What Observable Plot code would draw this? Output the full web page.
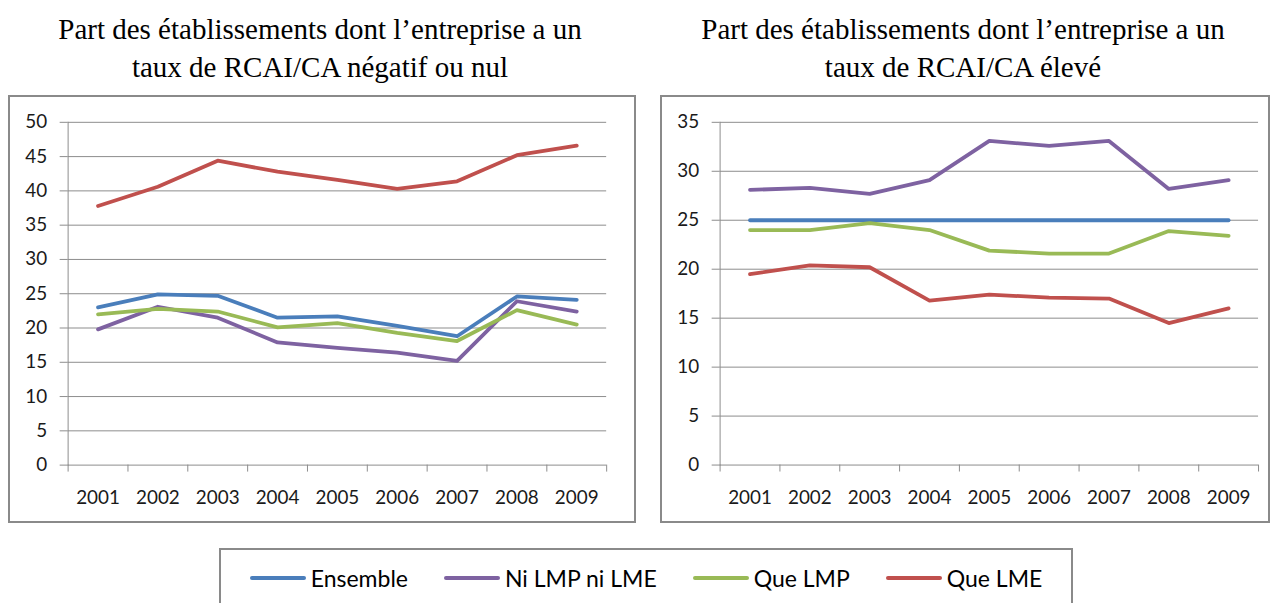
<!DOCTYPE html>
<html>
<head>
<meta charset="utf-8">
<script src="https://cdn.jsdelivr.net/npm/d3@7"></script>
<script src="https://cdn.jsdelivr.net/npm/@observablehq/plot@0.6"></script>
<style>
  html, body { margin: 0; padding: 0; background: #fff; }
  #page { position: relative; width: 1274px; height: 603px; overflow: hidden; background: #fff; }
  .title { position: absolute; width: 640px; text-align: center; font-family: "Liberation Serif", "Times New Roman", serif; font-size: 29px; line-height: 38px; color: #000; }
  .panel { position: absolute; border: 2px solid #8a8a8a; box-sizing: border-box; background: #fff; }
  .panel svg { position: absolute; left: -2px; top: -2px; }
  #legend { position: absolute; left: 219px; top: 548px; width: 854px; height: 70px; border: 2px solid #8a8a8a; box-sizing: border-box; display: flex; justify-content: center; align-items: flex-start; padding-top: 14px; gap: 36px; font-family: Lato, "Open Sans", sans-serif; font-size: 23px; color: #000; }
  .item { display: flex; align-items: center; gap: 5px; }
  .sw { width: 56px; height: 4px; border-radius: 2px; }
</style>
</head>
<body>
<div id="page"></div>
<script>
// ---- data ----
const years = [2001, 2002, 2003, 2004, 2005, 2006, 2007, 2008, 2009];
const seriesNames = ["Ensemble", "Ni LMP ni LME", "Que LMP", "Que LME"];
const seriesColors = ["#4a7ebb", "#7e62a1", "#99ba56", "#c0504d"];

// Left: négatif ou nul
const leftEnsemble = [23.0, 24.9, 24.7, 21.5, 21.7, 20.3, 18.8, 24.6, 24.1];
const leftNiLMPniLME = [19.8, 23.1, 21.5, 17.9, 17.1, 16.4, 15.2, 23.9, 22.4];
const leftQueLMP = [22.0, 22.8, 22.4, 20.1, 20.7, 19.3, 18.1, 22.6, 20.5];
const leftQueLME = [37.8, 40.6, 44.4, 42.8, 41.6, 40.3, 41.4, 45.2, 46.6];

// Right: élevé
const rightEnsemble = [25, 25, 25, 25, 25, 25, 25, 25, 25];
const rightNiLMPniLME = [28.1, 28.3, 27.7, 29.1, 33.1, 32.6, 33.1, 28.2, 29.1];
const rightQueLMP = [24.0, 24.0, 24.7, 24.0, 21.9, 21.6, 21.6, 23.9, 23.4];
const rightQueLME = [19.5, 20.4, 20.2, 16.8, 17.4, 17.1, 17.0, 14.5, 16.0];

const leftTicks = [0, 5, 10, 15, 20, 25, 30, 35, 40, 45, 50];
const rightTicks = [0, 5, 10, 15, 20, 25, 30, 35];

const leftTitle = ["Part des établissements dont l’entreprise a un", "taux de RCAI/CA négatif ou nul"];
const rightTitle = ["Part des établissements dont l’entreprise a un", "taux de RCAI/CA élevé"];

// ---- build ----
const page = document.getElementById("page");
const gridColor = "#8c8c8c";

function tidy(valuesBySeries) {
  const rows = [];
  seriesNames.forEach((s, i) => years.forEach((yr, j) => rows.push({year: yr, value: valuesBySeries[i][j], series: s})));
  return rows;
}

function makePanel(valuesBySeries, yTicks, width, height) {
  const boundaries = [years[0] - 0.5, ...years.map(y => y + 0.5)];
  const data = tidy(valuesBySeries);
  return Plot.plot({
    width: width,
    height: height,
    marginLeft: 60,
    marginRight: width - 60 - 542,
    marginTop: 27,
    marginBottom: 56,
    style: {fontFamily: "Lato, 'Open Sans', sans-serif", fontSize: "19px", color: "#1a1a1a", background: "transparent", overflow: "visible"},
    x: {type: "linear", domain: [boundaries[0], boundaries[boundaries.length - 1]]},
    y: {domain: [yTicks[0], yTicks[yTicks.length - 1]]},
    color: {domain: seriesNames, range: seriesColors},
    marks: [
      Plot.gridY(yTicks, {stroke: gridColor, strokeOpacity: 1, strokeWidth: 1}),
      Plot.frame({anchor: "left", stroke: gridColor, strokeWidth: 1}),
      Plot.axisY(yTicks, {tickSize: 8, tickPadding: 13, stroke: gridColor, strokeOpacity: 1, label: null, tickFormat: d => String(d), fill: "#1a1a1a"}),
      Plot.axisX(boundaries, {tickSize: 7, tickPadding: 0, stroke: gridColor, strokeOpacity: 1, tickFormat: () => "", label: null}),
      Plot.axisX(years, {tickSize: 0, tickPadding: 26, tickFormat: d => String(d), label: null, fill: "#1a1a1a"}),
      Plot.line(data, {x: "year", y: "value", z: "series", stroke: "series", strokeWidth: 3.8, strokeLinecap: "round", strokeLinejoin: "round"})
    ]
  });
}

function addTitle(lines, centerX) {
  const d = document.createElement("div");
  d.className = "title";
  d.style.left = (centerX - 320) + "px";
  d.style.top = "10px";
  d.innerHTML = lines.map(l => `<div>${l}</div>`).join("");
  page.appendChild(d);
}

function addPanel(svg, left, top, w, h) {
  const box = document.createElement("div");
  box.className = "panel";
  box.style.left = left + "px";
  box.style.top = top + "px";
  box.style.width = w + "px";
  box.style.height = h + "px";
  box.appendChild(svg);
  page.appendChild(box);
}

addTitle(leftTitle, 320);
addTitle(rightTitle, 963);

addPanel(makePanel([leftEnsemble, leftNiLMPniLME, leftQueLMP, leftQueLME], leftTicks, 628, 428), 8, 95, 628, 428);
addPanel(makePanel([rightEnsemble, rightNiLMPniLME, rightQueLMP, rightQueLME], rightTicks, 610, 428), 660, 95, 610, 428);

const legend = document.createElement("div");
legend.id = "legend";
seriesNames.forEach((s, i) => {
  const it = document.createElement("div");
  it.className = "item";
  it.innerHTML = `<span class="sw" style="background:${seriesColors[i]}"></span><span>${s}</span>`;
  legend.appendChild(it);
});
page.appendChild(legend);
</script>
</body>
</html>
